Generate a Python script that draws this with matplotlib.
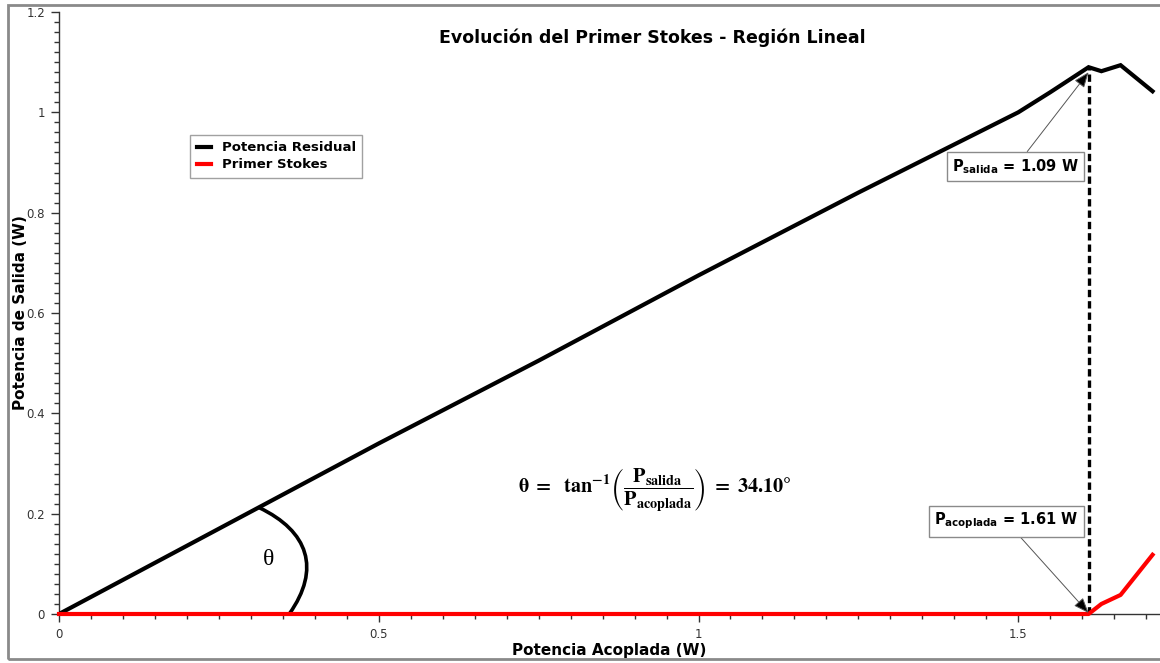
import numpy as np
import matplotlib
matplotlib.use("Agg")
import matplotlib.pyplot as plt
from matplotlib.patches import Rectangle, PathPatch
from matplotlib.path import Path
from matplotlib.ticker import MultipleLocator, FormatStrFormatter

# potencia acoplada (W) y las dos salidas medidas
p_acoplada = [0, 0.25, 0.5, 0.75, 1.0, 1.25, 1.5, 1.55, 1.61, 1.63, 1.66, 1.71]
p_residual = [0, 0.17, 0.34, 0.505, 0.675, 0.84, 1.0, 1.04, 1.09, 1.082, 1.094, 1.042]
p_stokes = [0, 0, 0, 0, 0, 0, 0, 0, 0, 0.02, 0.038, 0.118]

umbral_x = 1.61
umbral_y = 1.09
angulo = 34.10

fig = plt.figure(figsize=(11.6, 6.63), dpi=100)
ax = fig.add_axes([59 / 1160, 49 / 663, 1 - 59 / 1160, 602 / 663])

# marco gris alrededor de la figura
fig.patches.append(Rectangle((8 / 1160, 4 / 663), 1.2, 654 / 663, transform=fig.transFigure,
                             fill=False, edgecolor="#8a8a8a", lw=2))

ax.plot(p_acoplada, p_residual, color="black", lw=3, label="Potencia Residual",
        solid_joinstyle="miter", zorder=3)
ax.plot(p_acoplada, p_stokes, color="red", lw=3, label="Primer Stokes", clip_on=False, zorder=4)

# linea vertical en el umbral
ax.plot([umbral_x, umbral_x], [0, umbral_y], color="black", lw=2.4, ls=(0, (2.2, 1.2)), zorder=3)

ax.set_xlim(0, (1160 - 59) / 639.5)
ax.set_ylim(0, 1.2)
for s in ["top", "right"]:
    ax.spines[s].set_visible(False)
for s in ["left", "bottom"]:
    ax.spines[s].set_color("#333333")
    ax.spines[s].set_linewidth(1)

ax.xaxis.set_major_locator(MultipleLocator(0.5))
ax.xaxis.set_minor_locator(MultipleLocator(0.05))
ax.yaxis.set_major_locator(MultipleLocator(0.2))
ax.yaxis.set_minor_locator(MultipleLocator(0.02))
ax.xaxis.set_major_formatter(FormatStrFormatter("%g"))
ax.yaxis.set_major_formatter(FormatStrFormatter("%g"))
ax.tick_params(which="major", length=6, width=1, color="#333333", labelsize=8.5,
               labelcolor="#333333", pad=4)
ax.tick_params(which="minor", length=3.6, width=1, color="#333333")

ax.set_xlabel("Potencia Acoplada (W)", fontsize=11, fontweight="bold")
ax.xaxis.set_label_coords(0.5, -0.048)
ax.set_ylabel("Potencia de Salida (W)", fontsize=11, fontweight="bold")
ax.yaxis.set_label_coords(-0.0285, 0.5)
ax.text(0.539, 0.957, "Evolución del Primer Stokes - Región Lineal", transform=ax.transAxes,
        ha="center", va="center", fontsize=12.5, fontweight="bold")

leg = ax.legend(loc="upper left", bbox_to_anchor=(0.119, 0.796), borderaxespad=0,
                fancybox=False, edgecolor="#8a8a8a", handlelength=1.1, handletextpad=0.8,
                prop={"weight": "bold", "size": 9.5}, borderpad=0.5, labelspacing=0.3)
leg.get_frame().set_linewidth(1)

caja = dict(boxstyle="square,pad=0.35", fc="white", ec="#8a8a8a", lw=1)
flecha = dict(arrowstyle="-|>,head_length=0.9,head_width=0.35", fc="black", ec="#555555",
              lw=0.7, shrinkA=0, shrinkB=0)
ax.annotate(r"$\mathbf{P_{salida}}$ = %.2f W" % umbral_y, xy=(umbral_x, umbral_y - 0.01),
            xytext=(1.496, 0.892), ha="center", va="center", fontsize=10.5,
            fontweight="bold", math_fontfamily="dejavusans", bbox=caja, arrowprops=flecha,
            zorder=6)
ax.annotate(r"$\mathbf{P_{acoplada}}$ = %.2f W" % umbral_x, xy=(umbral_x, 0.002),
            xytext=(1.481, 0.185), ha="center", va="center", fontsize=10.5,
            fontweight="bold", math_fontfamily="dejavusans", bbox=caja, arrowprops=flecha,
            zorder=6)

# formula del angulo
ax.text(0.932, 0.247,
        r"$\mathbf{\theta\ =\ \ tan^{-1}}\left(\dfrac{\mathbf{P_{salida}}}{\mathbf{P_{acoplada}}}\right)"
        r"\mathbf{\ =\ %.2f\degree}$" % angulo,
        ha="center", va="center", fontsize=14.5, math_fontfamily="stix")

# arco que marca el angulo theta
arco = Path([(0.313, 0.212), (0.39, 0.165), (0.41, 0.09), (0.36, 0.0)],
            [Path.MOVETO, Path.CURVE4, Path.CURVE4, Path.CURVE4])
ax.add_patch(PathPatch(arco, fill=False, ec="black", lw=2.6, zorder=3))
ax.text(0.327, 0.108, "θ", fontsize=17, family="Liberation Serif", ha="center", va="center")

fig.savefig("out.png", dpi=100)
